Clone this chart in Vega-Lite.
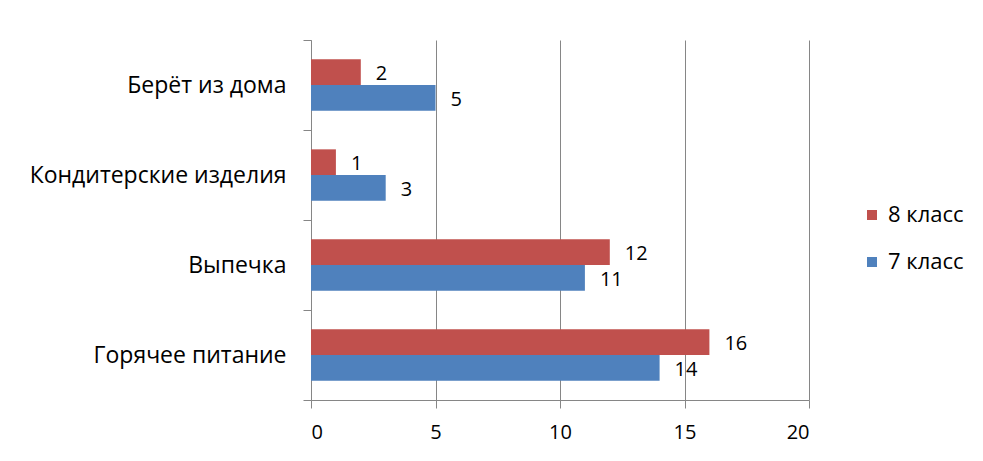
{
  "$schema": "https://vega.github.io/schema/vega-lite/v6.json",
  "autosize": {"type": "none"},
  "width": 498,
  "height": 360,
  "padding": {"left": 311, "top": 40, "right": 174, "bottom": 61},
  "background": "white",
  "config": {
    "font": "Open Sans",
    "view": {"stroke": null}
  },
  "data": {
    "values": [
      {"item": "Берёт из дома", "grade": "8 класс", "count": 2},
      {"item": "Берёт из дома", "grade": "7 класс", "count": 5},
      {"item": "Кондитерские изделия", "grade": "8 класс", "count": 1},
      {"item": "Кондитерские изделия", "grade": "7 класс", "count": 3},
      {"item": "Выпечка", "grade": "8 класс", "count": 12},
      {"item": "Выпечка", "grade": "7 класс", "count": 11},
      {"item": "Горячее питание", "grade": "8 класс", "count": 16},
      {"item": "Горячее питание", "grade": "7 класс", "count": 14}
    ]
  },
  "encoding": {
    "y": {
      "field": "item",
      "type": "nominal",
      "sort": ["Берёт из дома", "Кондитерские изделия", "Выпечка", "Горячее питание"],
      "scale": {"paddingInner": 0, "paddingOuter": 0},
      "axis": {
        "title": null,
        "tickBand": "extent",
        "tickSize": 8,
        "tickColor": "#868686",
        "domainColor": "#868686",
        "labelPadding": 17,
        "labelFontSize": 23,
        "labelLimit": 400,
        "labelColor": "black"
      }
    },
    "yOffset": {
      "field": "grade",
      "type": "nominal",
      "sort": ["8 класс", "7 класс"],
      "scale": {"paddingInner": 0, "paddingOuter": 0.754}
    },
    "x": {
      "field": "count",
      "type": "quantitative",
      "scale": {"domain": [0, 20]},
      "axis": {
        "title": null,
        "values": [0, 5, 10, 15, 20],
        "grid": true,
        "gridColor": "#868686",
        "gridOpacity": 1,
        "tickSize": 8,
        "tickColor": "#868686",
        "domainColor": "#868686",
        "labelPadding": 14,
        "labelFontSize": 20,
        "labelColor": "black"
      }
    }
  },
  "layer": [
    {
      "mark": {"type": "bar"},
      "encoding": {
        "color": {
          "field": "grade",
          "type": "nominal",
          "sort": ["8 класс", "7 класс"],
          "scale": {"domain": ["8 класс", "7 класс"], "range": ["#C0504D", "#4F81BD"]},
          "legend": {
            "title": null,
            "orient": "none",
            "legendX": 550,
            "legendY": 164,
            "symbolType": "square",
            "symbolSize": 100,
            "symbolStrokeWidth": 0,
            "labelFontSize": 22,
            "labelColor": "black",
            "labelOffset": 5,
            "rowPadding": 25
          }
        }
      }
    },
    {
      "mark": {"type": "text", "align": "left", "baseline": "middle", "dx": 15, "dy": 2, "fontSize": 20, "color": "black"},
      "encoding": {
        "text": {"field": "count", "type": "quantitative"}
      }
    }
  ]
}
